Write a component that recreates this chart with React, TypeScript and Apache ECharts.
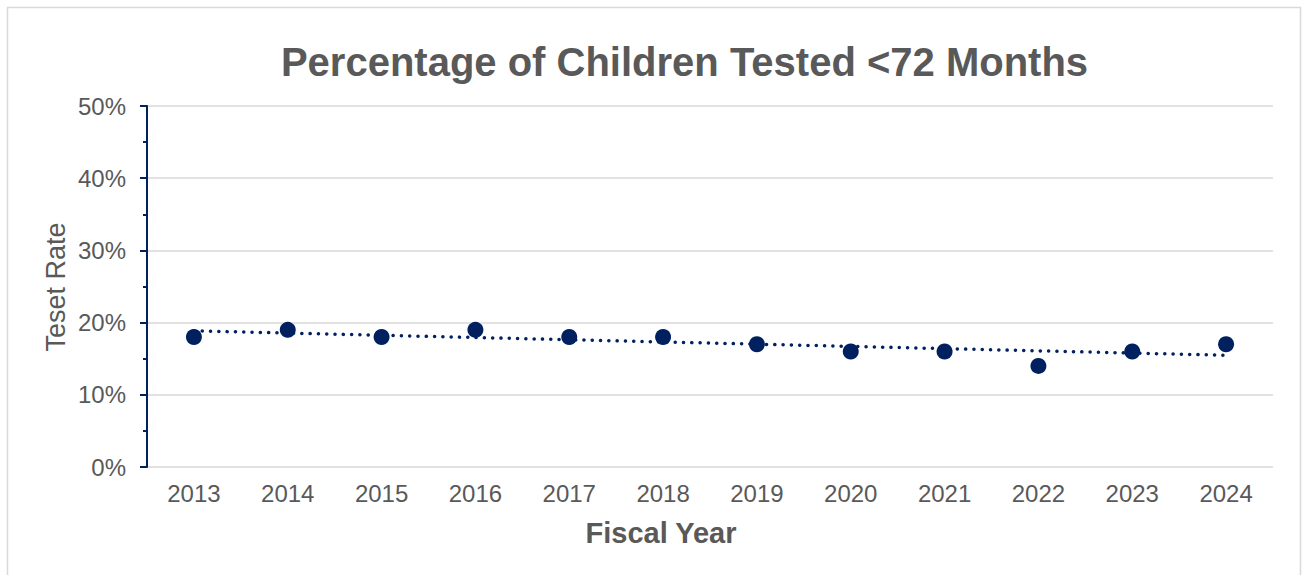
import React, { useEffect, useRef } from "react";
import * as echarts from "echarts";

const years = ["2013", "2014", "2015", "2016", "2017", "2018", "2019", "2020", "2021", "2022", "2023", "2024"];
const testRate = [18, 19, 18, 19, 18, 18, 17, 16, 16, 14, 16, 17];
const yTicks = { min: 0, max: 50, interval: 10 };
const titleText = "Percentage of Children Tested <72 Months";
const yName = "Teset Rate";
const xName = "Fiscal Year";

function linearTrend(vals: number[]): number[] {
  const n = vals.length;
  const xm = (n - 1) / 2;
  const ym = vals.reduce((a, b) => a + b, 0) / n;
  let sxy = 0;
  let sxx = 0;
  vals.forEach((v, i) => {
    sxy += (i - xm) * (v - ym);
    sxx += (i - xm) * (i - xm);
  });
  const slope = sxy / sxx;
  return vals.map((_, i) => ym + slope * (i - xm));
}

export default function App() {
  const ref = useRef<HTMLDivElement>(null);
  useEffect(() => {
    if (!ref.current) return;
    const chart = echarts.init(ref.current, undefined, { renderer: "svg" });
    const trend = linearTrend(testRate);
    const navy = "#002060";
    const gray = "#595959";
    chart.setOption({
      animation: false,
      backgroundColor: "#ffffff",
      textStyle: { fontFamily: "Liberation Sans, Arial, sans-serif" },
      grid: { left: 147, right: 31, top: 106, bottom: 108, containLabel: false },
      graphic: [
        {
          type: "rect",
          shape: { x: 7.5, y: 7.5, width: 1293, height: 600 },
          style: { fill: "none", stroke: "#d9d9d9", lineWidth: 1.5 },
          silent: true,
        },
        {
          type: "text",
          x: 684.5,
          y: 62,
          style: {
            text: titleText,
            fill: gray,
            font: "bold 40px 'Liberation Sans', Arial, sans-serif",
            align: "center",
            verticalAlign: "middle",
          },
        },
        {
          type: "text",
          x: 56,
          y: 287,
          rotation: Math.PI / 2,
          style: {
            text: yName,
            fill: gray,
            font: "27px 'Liberation Sans', Arial, sans-serif",
            align: "center",
            verticalAlign: "middle",
          },
        },
        {
          type: "text",
          x: 661,
          y: 533,
          style: {
            text: xName,
            fill: gray,
            font: "bold 29px 'Liberation Sans', Arial, sans-serif",
            align: "center",
            verticalAlign: "middle",
          },
        },
      ],
      xAxis: {
        type: "category",
        data: years,
        boundaryGap: true,
        axisLine: { show: false },
        axisTick: { show: false },
        axisLabel: { color: gray, fontSize: 24, margin: 14, fontFamily: "Liberation Sans, Arial, sans-serif" },
      },
      yAxis: {
        type: "value",
        min: yTicks.min,
        max: yTicks.max,
        interval: yTicks.interval,
        axisLine: { show: true, lineStyle: { color: navy, width: 2 } },
        axisTick: { show: true, inside: false, length: 7, lineStyle: { color: navy, width: 2 } },
        minorTick: { show: true, splitNumber: 2, length: 4, lineStyle: { color: navy, width: 2 } },
        splitLine: { show: true, lineStyle: { color: "#d9d9d9", width: 1.5 } },
        axisLabel: {
          color: gray,
          fontSize: 24,
          margin: 21,
          formatter: "{value}%",
          fontFamily: "Liberation Sans, Arial, sans-serif",
        },
      },
      series: [
        {
          name: "Trend",
          type: "line",
          data: trend,
          showSymbol: false,
          symbol: "none",
          lineStyle: { color: navy, width: 3.5, type: [0.1, 8.2], cap: "round" },
          z: 2,
          silent: true,
        },
        {
          name: "Test Rate",
          type: "scatter",
          data: testRate,
          symbol: "circle",
          symbolSize: 16,
          itemStyle: { color: navy, opacity: 1 },
          z: 3,
        },
      ],
    });
    return () => chart.dispose();
  }, []);
  return (
    <div
      ref={ref}
      style={{ position: "fixed", left: 0, top: 0, width: 1304, height: 575 }}
    />
  );
}
